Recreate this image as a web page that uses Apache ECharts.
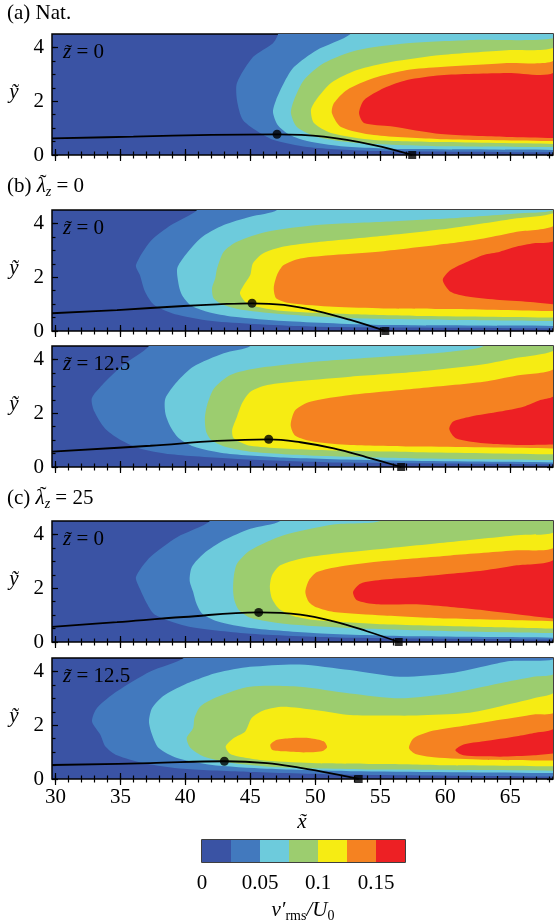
<!DOCTYPE html>
<html>
<head>
<meta charset="utf-8">
<script src="https://cdn.jsdelivr.net/npm/echarts@6/dist/echarts.min.js"></script>
<style>
html,body{margin:0;padding:0;background:#fff;}
#chart{width:554px;height:924px;}
</style>
</head>
<body>
<div id="chart"></div>
<script>
// contour levels of v'rms/U0 and their fill colours
var levels = [0, 0.025, 0.05, 0.075, 0.1, 0.125, 0.15, 0.175];
var bandColors = ['#3a53a4', '#4279be', '#6dcbdc', '#9ccd6f', '#f6ec13', '#f58221', '#ed2024'];
var colorbarLabels = [0, 0.05, 0.1, 0.15];
var xMajor = [30, 35, 40, 45, 50, 55, 60, 65];
var xMinor = [30,31,32,33,34,35,36,37,38,39,40,41,42,43,44,45,46,47,48,49,50,51,52,53,54,55,56,57,58,59,60,61,62,63,64,65,66,67,68];
var yMajor = [0, 2, 4];
var yMinor = [0.5, 1, 1.5, 2.5, 3, 3.5, 4];

// each band: outline of the region above a level, [x, y] points
// (upper edge from the right/top, round the nose, lower edge back to the right)
var bandsA = [
  [[47.13,4.5],[46.74,4.16],[45.2,3.64],[43.97,2.68],[43.97,2.04],[44.43,1.30],[45.74,0.82],[46.8,0.56],[49.36,0.30],[54.5,0.15],[68.4,0.10]],
  [[52.7,4.5],[50.1,3.90],[48.35,3.27],[47.58,2.68],[46.97,2.04],[46.74,1.60],[47.1,1.12],[48.05,0.74],[49.36,0.52],[51.97,0.33],[57.05,0.22],[68.4,0.19]],
  [[68.4,4.35],[62.2,4.28],[57.05,4.16],[53.2,3.90],[50.66,3.42],[49.12,2.79],[48.35,2.04],[48.12,1.56],[48.58,1.04],[50.12,0.67],[53.2,0.45],[59.66,0.33],[68.4,0.30]],
  [[68.4,4.01],[64.73,3.90],[59.66,3.72],[55.8,3.46],[53.2,3.16],[51.2,2.68],[50.04,2.04],[49.66,1.67],[49.89,1.19],[51.2,0.82],[54.5,0.56],[59.66,0.48],[68.4,0.41]],
  [[68.4,3.53],[64.73,3.42],[59.66,3.27],[57.05,3.16],[54.5,2.86],[52.43,2.42],[51.43,1.93],[51.27,1.56],[51.97,1.04],[54.5,0.74],[59.66,0.59],[68.4,0.52]],
  [[68.4,3.09],[64.73,3.05],[59.66,2.97],[57.05,2.79],[55.28,2.49],[53.74,2.04],[53.36,1.56],[53.74,1.19],[55.8,1.07],[59.66,0.78],[64.73,0.67],[68.4,0.63]]
];
var bandsB1 = [
  [[40.9,4.5],[38.9,3.94],[37.3,3.33],[36.2,2.45],[36.5,2.08],[36.9,1.46],[37.6,0.97],[39.4,0.6],[42.4,0.35],[50.1,0.16],[68.4,0.1]],
  [[47.05,4.5],[45.0,4.25],[42.95,3.94],[41.15,3.44],[39.41,2.39],[39.49,1.71],[39.74,1.34],[40.38,0.97],[41.67,0.72],[43.72,0.53],[47.56,0.37],[55.26,0.22],[68.4,0.19]],
  [[68.4,4.5],[65.5,4.37],[60.38,4.19],[55.26,4.06],[50.13,3.94],[46.28,3.69],[43.97,3.32],[42.95,2.95],[42.44,2.33],[42.3,1.96],[42.05,1.59],[42.18,1.21],[42.95,0.97],[44.49,0.78],[47.56,0.62],[52.7,0.47],[60.4,0.41],[68.4,0.37]],
  [[68.4,4.41],[65.5,4.19],[60.4,3.82],[55.26,3.54],[50.13,3.30],[47.56,3.14],[46.0,2.89],[45.2,2.52],[44.99,2.08],[44.5,1.71],[44.2,1.40],[44.6,1.09],[45.5,0.90],[47.56,0.74],[52.7,0.62],[57.8,0.56],[68.4,0.50]],
  [[68.4,3.94],[65.5,3.69],[62.95,3.44],[60.4,3.26],[55.26,2.97],[51.4,2.83],[48.85,2.70],[47.56,2.45],[47.05,2.08],[46.8,1.59],[47.0,1.21],[48.1,1.03],[51.4,0.90],[55.26,0.84],[60.4,0.82],[68.4,0.74]],
  [[68.4,3.38],[66.8,3.26],[65.5,3.14],[64.2,2.95],[62.95,2.83],[61.7,2.58],[60.4,2.27],[59.8,1.90],[60.4,1.46],[61.7,1.28],[64.2,1.15],[66.8,1.07],[68.4,0.99]]
];
var bandsB2 = [
  [[37.2,4.5],[35.2,3.79],[33.6,3.05],[32.8,2.55],[33.0,2.06],[33.8,1.44],[34.8,1.07],[36.3,0.72],[38.9,0.47],[44.0,0.30],[51.7,0.17],[68.4,0.10]],
  [[45.0,4.5],[42.95,4.23],[40.6,3.73],[39.36,3.17],[38.46,2.55],[38.46,2.0],[38.85,1.50],[39.5,1.07],[40.64,0.76],[42.95,0.51],[47.56,0.35],[55.26,0.24],[68.4,0.17]],
  [[62.95,4.5],[60.4,4.29],[55.26,4.10],[50.13,3.92],[45.5,3.67],[43.46,3.42],[42.2,2.92],[41.67,2.30],[41.5,1.81],[41.6,1.31],[42.0,1.0],[43.0,0.76],[45.0,0.57],[50.13,0.42],[57.8,0.32],[68.4,0.26]],
  [[68.4,4.35],[65.5,4.06],[62.95,3.82],[57.8,3.54],[52.7,3.36],[48.85,3.20],[46.3,3.05],[45.0,2.80],[44.36,2.37],[43.97,1.87],[43.6,1.38],[43.72,1.07],[45.0,0.79],[50.13,0.63],[57.8,0.55],[68.4,0.47]],
  [[68.4,3.67],[65.5,3.40],[62.95,3.17],[57.8,2.92],[52.7,2.68],[49.6,2.43],[48.46,2.12],[48.1,1.56],[48.46,1.16],[49.9,0.94],[52.7,0.82],[57.8,0.76],[68.4,0.69]],
  [[68.4,2.68],[67.3,2.49],[66.0,2.24],[64.2,2.06],[61.9,1.87],[60.6,1.69],[60.3,1.41],[60.8,1.07],[62.95,0.88],[65.5,0.82],[68.4,0.84]]
];
var bandsC1 = [
  [[41.9,4.5],[39.36,3.90],[37.3,3.16],[36.2,2.42],[36.5,1.98],[37.05,1.42],[37.56,1.05],[38.6,0.81],[40.4,0.56],[45.0,0.31],[52.7,0.16],[68.4,0.09]],
  [[47.3,4.5],[45.0,4.21],[42.95,3.78],[41.4,3.28],[40.5,2.79],[40.33,2.29],[40.6,1.86],[40.85,1.43],[41.3,1.05],[42.44,0.77],[45.0,0.52],[50.13,0.33],[57.8,0.21],[68.4,0.16]],
  [[55.0,4.5],[51.4,4.37],[47.56,3.97],[45.0,3.41],[43.97,2.91],[43.72,2.42],[43.67,1.92],[43.77,1.55],[44.1,1.20],[45.0,0.90],[47.56,0.68],[52.7,0.52],[60.4,0.40],[68.4,0.33]],
  [[68.4,4.09],[65.5,3.97],[60.4,3.72],[55.26,3.47],[51.4,3.28],[48.85,3.10],[47.3,2.85],[46.67,2.48],[46.5,2.04],[46.67,1.61],[47.2,1.24],[48.3,0.97],[50.13,0.81],[55.26,0.66],[62.95,0.56],[68.4,0.50]],
  [[68.4,3.53],[65.5,3.41],[60.4,3.22],[55.26,3.01],[51.9,2.81],[50.13,2.60],[49.5,2.29],[49.23,1.86],[49.5,1.49],[50.13,1.28],[51.4,1.12],[55.26,0.99],[60.4,0.87],[68.4,0.77]],
  [[68.4,3.10],[65.5,2.85],[62.95,2.66],[60.4,2.54],[57.8,2.42],[55.26,2.32],[53.46,2.17],[52.9,1.86],[53.2,1.55],[54.7,1.40],[57.8,1.40],[60.4,1.30],[62.95,1.18],[65.5,1.03],[68.4,0.87]]
];
var bandsC2 = [
  [[39.87,4.5],[37.3,4.0],[34.74,3.26],[33.2,2.64],[32.82,2.14],[33.46,1.65],[33.85,1.21],[34.74,0.88],[36.8,0.59],[39.87,0.38],[45.0,0.26],[52.7,0.16],[68.4,0.09]],
  [[68.4,4.46],[64.97,4.39],[63.43,4.24],[60.35,3.93],[56.5,3.80],[52.66,4.05],[48.8,4.26],[44.97,4.17],[42.44,3.95],[41.12,3.74],[39.87,3.5],[38.33,3.1],[37.44,2.64],[37.2,2.14],[37.44,1.65],[37.95,1.15],[39.36,0.78],[41.92,0.53],[46.28,0.38],[52.7,0.29],[68.4,0.22]],
  [[68.4,3.93],[66.77,3.80],[64.2,3.56],[60.35,3.18],[56.5,3.0],[52.66,3.18],[48.8,3.43],[44.97,3.43],[42.44,3.05],[41.15,2.70],[40.7,2.27],[40.6,1.90],[40.1,1.52],[40.4,1.15],[41.4,0.84],[43.72,0.59],[47.56,0.43],[55.26,0.35],[68.4,0.31]],
  [[68.4,3.25],[66.8,3.0],[64.2,2.7],[61.6,2.45],[57.8,2.36],[55.26,2.36],[52.66,2.38],[50.1,2.56],[47.5,2.69],[46.0,2.55],[45.1,2.27],[44.6,1.77],[43.7,1.52],[43.1,1.21],[43.46,0.93],[44.74,0.78],[46.28,0.68],[50.13,0.59],[55.26,0.56],[60.4,0.51],[68.4,0.47]],
  [[68.4,2.5],[66.8,2.4],[64.2,2.2],[61.7,2.0],[59.1,1.80],[57.56,1.52],[57.2,1.15],[57.7,0.93],[59.1,0.81],[62.95,0.72],[68.4,0.69]],
  [[68.4,1.92],[66.8,1.71],[65.5,1.59],[62.95,1.40],[61.4,1.28],[60.77,1.07],[61.4,0.88],[64.2,0.83],[66.8,0.88],[68.4,0.95]]
];
// closed orange patch inside the yellow band of panel (c) z=12.5
var islandC2 = [[46.54,1.28],[47.05,1.46],[48.08,1.52],[49.6,1.52],[50.64,1.40],[50.9,1.18],[50.5,1.03],[49.1,0.99],[47.56,1.03],[46.67,1.09]];

// black curve with its maximum (dot) and end point on the wall (square)
var lineA  = [[29.74,0.62],[36,0.68],[42,0.75],[47.05,0.77],[50.66,0.68],[54.5,0.37],[57.45,0]];
var lineB1 = [[29.74,0.66],[34.74,0.78],[39.87,0.93],[42.44,0.99],[45.13,1.03],[47.56,0.97],[50.13,0.74],[52.69,0.41],[55.38,0]];
var lineB2 = [[29.74,0.57],[37.3,0.79],[42.44,0.97],[46.41,1.03],[48.85,0.92],[51.41,0.69],[53.97,0.36],[56.6,0]];
var lineC1 = [[29.74,0.56],[34.74,0.74],[39.87,0.93],[45.64,1.10],[48.85,1.02],[51.41,0.77],[53.97,0.40],[56.41,0]];
var lineC2 = [[29.74,0.52],[37.3,0.59],[43.0,0.66],[46.28,0.59],[48.85,0.41],[51.41,0.19],[53.33,0]];
var dots    = [[47.05,0.77],[45.13,1.03],[46.41,1.03],[45.64,1.10],[43.0,0.66]];
var squares = [[57.45,0],[55.38,0],[56.6,0],[56.41,0],[53.33,0]];

var X_MIN = 29.74, X_MAX = 68.28, Y_MAX = 4.5;
var FONT = "'Liberation Serif', 'DejaVu Serif', serif";

var panels = [
  {top: 34,  bands: bandsA,  islands: [],          line: lineA,  z: '0'},
  {top: 210, bands: bandsB1, islands: [],          line: lineB1, z: '0'},
  {top: 346, bands: bandsB2, islands: [],          line: lineB2, z: '12.5'},
  {top: 521, bands: bandsC1, islands: [],          line: lineC1, z: '0'},
  {top: 658, bands: bandsC2, islands: [islandC2],  line: lineC2, z: '12.5'}
];

var chart = echarts.init(document.getElementById('chart'));
var grids = [], xAxes = [], yAxes = [], series = [], graphics = [];

function tickAxis(dim, gridIndex, pos, ticks, len, labels) {
  var ax = {
    type: 'value', gridIndex: gridIndex, position: pos,
    axisLine: {show: false}, splitLine: {show: false},
    axisTick: {show: true, inside: true, length: len, customValues: ticks, lineStyle: {color: '#000', width: 1.2}},
    axisLabel: labels ? {show: true, customValues: labels, color: '#000', fontSize: 21, fontFamily: FONT, margin: 8} : {show: false}
  };
  if (dim === 'x') { ax.min = X_MIN; ax.max = X_MAX; } else { ax.min = 0; ax.max = Y_MAX; }
  return ax;
}

function closeBand(pts) {
  var first = pts[0], last = pts[pts.length - 1];
  return pts.concat([[70, last[1]], [70, 5], [first[0], 5]]);
}

var italicRich = {
  i: {fontFamily: FONT, fontStyle: 'italic', fontSize: 21, lineHeight: 26},
  t: {fontFamily: FONT, fontSize: 21, lineHeight: 26},
  s: {fontFamily: FONT, fontStyle: 'italic', fontSize: 14, lineHeight: 14, verticalAlign: 'bottom'},
  r: {fontFamily: FONT, fontSize: 14, lineHeight: 14, verticalAlign: 'bottom'}
};

panels.forEach(function (p, i) {
  grids.push({left: 52, width: 501, top: p.top, height: 121, show: true,
    backgroundColor: bandColors[0], borderColor: '#000', borderWidth: 1.5, z: 0});
  var isLast = i === panels.length - 1;
  var xi = xAxes.length, yi = yAxes.length;
  xAxes.push(tickAxis('x', i, 'bottom', xMajor, 6, isLast ? xMajor : null));
  xAxes.push(tickAxis('x', i, 'bottom', xMinor, 3.5, null));
  xAxes.push(tickAxis('x', i, 'top', xMajor, 6, null));
  xAxes.push(tickAxis('x', i, 'top', xMinor, 3.5, null));
  yAxes.push(tickAxis('y', i, 'left', yMajor, 6, yMajor));
  yAxes.push(tickAxis('y', i, 'left', yMinor, 3.5, null));
  yAxes.push(tickAxis('y', i, 'right', yMajor, 6, null));
  yAxes.push(tickAxis('y', i, 'right', yMinor, 3.5, null));

  var polys = [];
  p.bands.forEach(function (b, k) {
    polys.push({pts: closeBand(b), color: bandColors[k + 1]});
    if (k === 3) {
      p.islands.forEach(function (isl) { polys.push({pts: isl, color: bandColors[5]}); });
    }
  });

  series.push({
    type: 'custom', xAxisIndex: xi, yAxisIndex: yi, clip: true, silent: true, z: 1,
    data: polys.map(function (q, k) { return [k]; }),
    renderItem: function (params, api) {
      var q = polys[params.dataIndex];
      return {
        type: 'polygon',
        shape: {points: q.pts.map(function (pt) { return api.coord(pt); }), smooth: 0.25},
        style: {fill: q.color}
      };
    }
  });
  series.push({
    type: 'line', xAxisIndex: xi, yAxisIndex: yi, data: p.line, smooth: 0.4,
    showSymbol: false, silent: true, z: 3, clip: false,
    lineStyle: {color: '#000', width: 1.8}
  });
  series.push({
    type: 'scatter', xAxisIndex: xi, yAxisIndex: yi, data: [dots[i]], symbol: 'circle',
    symbolSize: 9, itemStyle: {color: '#000'}, silent: true, z: 4, clip: false
  });
  series.push({
    type: 'scatter', xAxisIndex: xi, yAxisIndex: yi, data: [squares[i]], symbol: 'rect',
    symbolSize: 8, itemStyle: {color: '#000'}, silent: true, z: 4, clip: false
  });

  graphics.push({
    type: 'text', left: 63, top: p.top + 8, z: 10,
    style: {text: '{i|z\u0303}{t| = ' + p.z + '}', rich: italicRich, fill: '#000'}
  });
  graphics.push({
    type: 'text', x: 14, y: p.top + 58, z: 10,
    style: {text: '\u1ef9', font: 'italic 21px ' + FONT, fill: '#000', textAlign: 'center', textVerticalAlign: 'middle'}
  });
});

// colour bar
var cbGrid = grids.length;
grids.push({left: 202, width: 203, top: 840, height: 22, show: true, borderColor: '#000', borderWidth: 1.5});
var cbX = xAxes.length, cbY = yAxes.length;
xAxes.push({
  type: 'value', gridIndex: cbGrid, min: 0, max: 0.175, position: 'bottom',
  axisLine: {show: false}, splitLine: {show: false},
  axisTick: {show: true, inside: true, length: 3, customValues: levels.slice(1, -1), lineStyle: {color: '#000'}},
  axisLabel: {show: true, customValues: colorbarLabels, color: '#000', fontSize: 21, fontFamily: FONT, margin: 11}
});
xAxes.push({
  type: 'value', gridIndex: cbGrid, min: 0, max: 0.175, position: 'top',
  axisLine: {show: false}, splitLine: {show: false},
  axisTick: {show: true, inside: true, length: 3, customValues: levels.slice(1, -1), lineStyle: {color: '#000'}},
  axisLabel: {show: false}
});
yAxes.push({type: 'value', gridIndex: cbGrid, min: 0, max: 1, show: false});
series.push({
  type: 'custom', xAxisIndex: cbX, yAxisIndex: cbY, silent: true, z: 1,
  data: bandColors.map(function (c, k) { return [levels[k], levels[k + 1]]; }),
  renderItem: function (params, api) {
    var a = api.coord([api.value(0), 1]);
    var b = api.coord([api.value(1), 0]);
    return {type: 'rect', shape: {x: a[0], y: a[1], width: b[0] - a[0], height: b[1] - a[1]},
      style: {fill: bandColors[params.dataIndex]}};
  }
});

graphics.push(
  {type: 'text', left: 7, top: 3, style: {text: '(a) Nat.', font: '21px ' + FONT, fill: '#000'}},
  {type: 'text', left: 7, top: 176, style: {text: '{t|(b) }{i|\u03bb}{s|z}{t| = 0}', rich: italicRich, fill: '#000'}},
  {type: 'text', x: 43, y: 183, style: {text: '\u02dc', font: '21px ' + FONT, fill: '#000', textAlign: 'center', textVerticalAlign: 'middle'}},
  {type: 'text', left: 7, top: 488, style: {text: '{t|(c) }{i|\u03bb}{s|z}{t| = 25}', rich: italicRich, fill: '#000'}},
  {type: 'text', x: 43, y: 495, style: {text: '\u02dc', font: '21px ' + FONT, fill: '#000', textAlign: 'center', textVerticalAlign: 'middle'}},
  {type: 'text', x: 302, y: 822, style: {text: 'x\u0303', font: 'italic 21px ' + FONT, fill: '#000', textAlign: 'center', textVerticalAlign: 'middle'}},
  {type: 'text', x: 303, y: 910, style: {
    text: '{i|v\u2032}{r|rms}{i|/U}{r|0}', textAlign: 'center', textVerticalAlign: 'middle', rich: italicRich, fill: '#000'}}
);

chart.setOption({
  animation: false,
  grid: grids,
  xAxis: xAxes,
  yAxis: yAxes,
  series: series,
  graphic: graphics
});
</script>
</body>
</html>
